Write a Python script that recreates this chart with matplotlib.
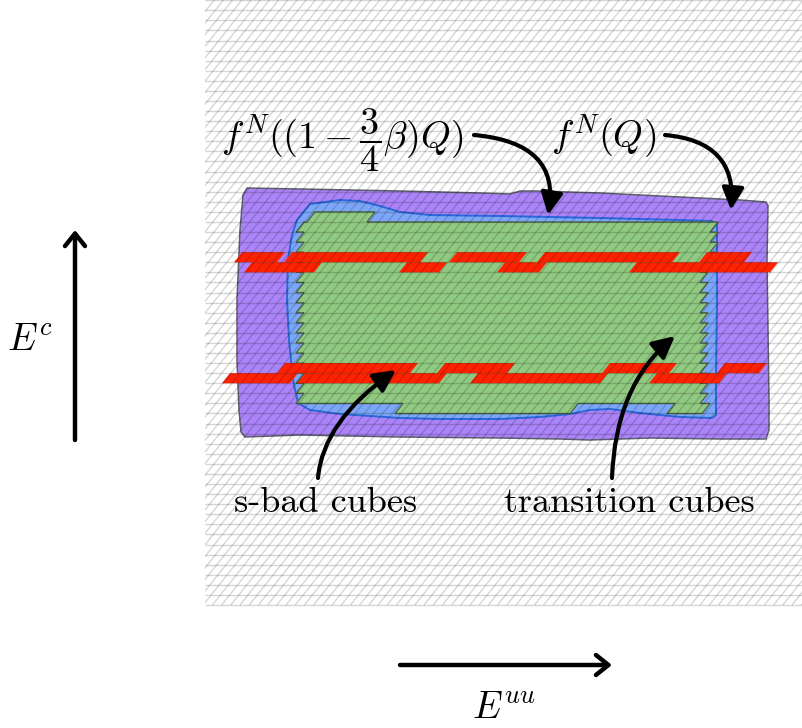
import matplotlib.pyplot as plt
from matplotlib.patches import Polygon, FancyArrowPatch
from matplotlib.collections import LineCollection
import numpy as np

plt.rcParams['mathtext.fontset'] = 'cm'

# drawing is done in pixel coordinates of the 803x728 picture (y grows downwards)
W, H = 803, 728
ROW = 10.08     # height of one row of cubes
SHEAR = 8.0     # horizontal shift of a cube edge over one row
HATCH_LEFT, HATCH_BOTTOM = 205, 605

# f^N(Q): outer wavy region
purple_x = [247, 300, 400, 480, 510, 520, 535, 600, 680, 740, 766, 768, 767, 768, 769, 769, 766,
            720, 650, 590, 560, 500, 400, 300, 245, 241, 239, 237, 237, 240, 243]
purple_y = [188, 189, 191, 193, 194, 191, 191, 193, 197, 200, 202, 206, 260, 330, 400, 430, 439,
            439, 438, 440, 439, 438, 437, 435, 437, 432, 410, 360, 300, 230, 195]

# f^N((1-3/4 beta)Q): inner region
blue_x = [297, 310, 340, 360, 380, 400, 430, 500, 600, 680, 712, 717, 717, 716, 716, 712,
          680, 640, 610, 590, 570, 540, 500, 440, 400, 340, 310, 298, 293, 289, 287, 288, 292]
blue_y = [220, 204, 200, 201, 206, 212, 215, 216, 218, 220, 221, 225, 300, 380, 415, 418,
          417, 413, 409, 410, 414, 417, 419, 419, 418, 414, 410, 403, 380, 340, 300, 260, 235]

# cubes: row tops and top-left / top-right x of each row
green_top = [211.9, 222.0, 232.1, 242.2, 252.2, 262.3, 272.4, 282.5, 292.6, 302.7,
             312.7, 322.8, 332.9, 343.0, 353.1, 363.1, 373.2, 383.3, 393.4]
green_left = [315] + [304] * 18
green_right = [375] + [718] * 4 + [708] * 14
# last row (403.5 - 413.6) is split in two pieces
green_bottom_pieces = [(403, 578), (675, 710)]

# s-bad cubes (red strips): (row top, [(x_left_top, x_right_top), ...])
red_rows = [
    (252.2, [(242, 285), (292, 428), (457, 527), (545, 680), (707, 752)]),
    (262.3, [(252, 322), (407, 447), (505, 547), (637, 778)]),
    (363.1, [(285, 418), (445, 515), (610, 677), (725, 767)]),
    (373.2, [(230, 298), (305, 447), (478, 608), (657, 727)]),
]

fig = plt.figure(figsize=(8.03, 7.28), dpi=100)
ax = fig.add_axes([0, 0, 1, 1])
ax.set_xlim(0, W)
ax.set_ylim(H, 0)
ax.axis('off')

ax.add_patch(Polygon(np.column_stack([purple_x, purple_y]), closed=True,
                     facecolor='#aa84f8', edgecolor='#5f5f6f', lw=1.1, zorder=1))
ax.add_patch(Polygon(np.column_stack([blue_x, blue_y]), closed=True,
                     facecolor='#7ca7f8', edgecolor='#2a68dc', lw=1.4, zorder=2))

# outline of the cube region: right side down, bottom right-to-left, left side up
pts = [(green_left[0], green_top[0])]
n = len(green_top)
for i in range(n):
    pts.append((green_right[i], green_top[i]))
    pts.append((green_right[i] - SHEAR, green_top[i] + ROW))
yb = green_top[-1] + ROW
for l, r in sorted(green_bottom_pieces, reverse=True):
    pts.append((r, yb))
    pts.append((r - SHEAR, yb + ROW))
    pts.append((l - SHEAR, yb + ROW))
    pts.append((l, yb))
for i in range(n - 1, -1, -1):
    pts.append((green_left[i] - SHEAR, green_top[i] + ROW))
    pts.append((green_left[i], green_top[i]))
ax.add_patch(Polygon(pts, closed=True, facecolor='#90c981', edgecolor='#4f6a4a',
                     lw=1.0, zorder=3))

for ytop, pieces in red_rows:
    for l, r in pieces:
        ax.add_patch(Polygon([(l, ytop), (r, ytop), (r - SHEAR, ytop + ROW), (l - SHEAR, ytop + ROW)],
                             closed=True, facecolor='#ff2200', edgecolor='none', zorder=4))

# background grid of cubes (drawn on top, translucent), cut to the grid rectangle
hsegs = [[(HATCH_LEFT, y), (W, y)] for y in HATCH_BOTTOM - ROW * np.arange(0, 61)]
k = SHEAR / ROW
dsegs = []
for x0 in np.arange(HATCH_LEFT - HATCH_BOTTOM * k, W, 9.2):
    # x = x0 + (HATCH_BOTTOM - y) * k
    y_a = min(HATCH_BOTTOM, HATCH_BOTTOM - (HATCH_LEFT - x0) / k)
    y_b = max(0.0, HATCH_BOTTOM - (W - x0) / k)
    if y_a <= y_b:
        continue
    dsegs.append([(x0 + (HATCH_BOTTOM - y_a) * k, y_a), (x0 + (HATCH_BOTTOM - y_b) * k, y_b)])
ax.add_collection(LineCollection(hsegs, colors='k', alpha=0.16, linewidths=1.0, zorder=5))
ax.add_collection(LineCollection(dsegs, colors='k', alpha=0.16, linewidths=1.0, zorder=5))

ax.text(342, 148, r'$f^N((1-\dfrac{3}{4}\beta)Q)$', fontsize=27.5, ha='center', va='baseline', zorder=6)
ax.text(604, 148, r'$f^N(Q)$', fontsize=27.5, ha='center', va='baseline', zorder=6)
ax.text(326, 512, 's-bad cubes', family='cmr10', fontsize=26, ha='center', va='baseline', zorder=6)
ax.text(629, 512, 'transition cubes', family='cmr10', fontsize=26, ha='center', va='baseline', zorder=6)
ax.text(30, 350, r'$E^c$', fontsize=27, ha='center', va='baseline', zorder=6)
ax.text(504, 718, r'$E^{uu}$', fontsize=27, ha='center', va='baseline', zorder=6)

curved = [
    ((474, 135), (548, 215), 'angle3,angleA=-5,angleB=80'),
    ((665, 135), (731, 210), 'angle3,angleA=-5,angleB=85'),
    ((318, 478), (396, 370), 'angle3,angleA=85,angleB=35'),
    ((612, 478), (675, 336), 'angle3,angleA=88,angleB=40'),
]
for a, b, cs in curved:
    ax.add_patch(FancyArrowPatch(a, b, connectionstyle=cs,
                                 arrowstyle='-|>,head_length=0.6,head_width=0.3',
                                 mutation_scale=22, lw=3, color='k', shrinkA=0, shrinkB=0, zorder=7))

for a, b in [((75, 440), (75, 230)), ((400, 665), (612, 665))]:
    ax.add_patch(FancyArrowPatch(a, b, arrowstyle='->,head_length=0.45,head_width=0.36',
                                 mutation_scale=20, lw=3.2, color='k', shrinkA=0, shrinkB=0, zorder=7))

fig.savefig('out.png', dpi=100)
